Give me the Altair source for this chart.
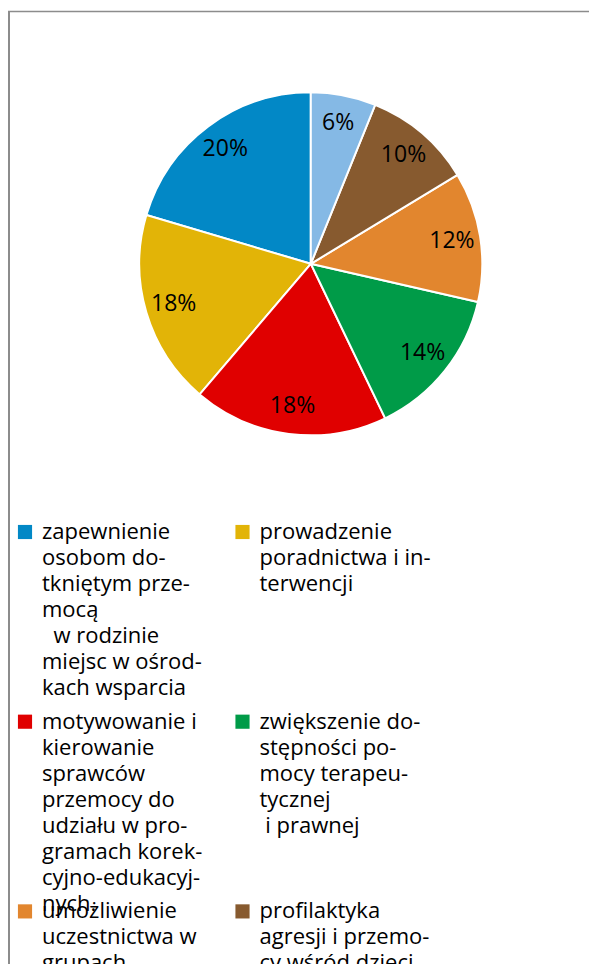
import altair as alt
import pandas as pd

# ---- data ----
keys = ["zapewnienie", "prowadzenie", "motywowanie", "zwiekszenie",
        "umozliwienie", "profilaktyka", "inne"]
counts = [10, 9, 9, 7, 6, 5, 3]
colors = ["#0288c6", "#e2b407", "#e00000", "#009b48", "#e2862e", "#875a2f", "#85b9e5"]
pie_order = [6, 5, 4, 3, 2, 1, 0]

legend_keys = ["zapewnienie", "prowadzenie", "motywowanie", "zwiekszenie",
               "umozliwienie", "profilaktyka"]
legend_lines = [
    ["zapewnienie", "osobom do-", "tkniętym prze-", "mocą",
     "\u200b\u00a0\u00a0w rodzinie", "miejsc w ośrod-", "kach wsparcia"],
    ["prowadzenie", "poradnictwa i in-", "terwencji"],
    ["motywowanie i", "kierowanie", "sprawców", "przemocy do",
     "udziału w pro-", "gramach korek-", "cyjno-edukacyj-", "nych."],
    ["zwiększenie do-", "stępności po-", "mocy terapeu-", "tycznej",
     "\u200b\u00a0i prawnej"],
    ["umożliwienie", "uczestnictwa w", "grupach"],
    ["profilaktyka", "agresji i przemo-", "cy wśród dzieci"],
]
legend_col = [0, 1, 0, 1, 0, 1]
legend_row = [0, 0, 1, 1, 2, 2]

total = sum(counts)
pie_df = pd.DataFrame({
    "key": keys,
    "count": counts,
    "ord": pie_order,
    "pct": [f"{round(c / total * 100)}%" for c in counts],
})
leg_df = pd.DataFrame({
    "key": legend_keys,
    "col": legend_col,
    "row": legend_row,
    "txt": ["\n".join(l) for l in legend_lines],
})

FONT = "Open Sans"
W, H = 581, 956
CX, CY = 302.8, 255.8

color_scale = alt.Scale(domain=keys, range=colors)

pie = alt.Chart(pie_df).mark_arc(outerRadius=171.5, stroke="white", strokeWidth=2).encode(
    theta=alt.Theta("count:Q", stack=True),
    color=alt.Color("key:N", scale=color_scale, legend=None),
    order=alt.Order("ord:Q"),
    x=alt.value(CX), y=alt.value(CY),
)

labels = alt.Chart(pie_df).mark_text(radius=143, fontSize=23, font=FONT, color="#000000").encode(
    theta=alt.Theta("count:Q", stack=True),
    order=alt.Order("ord:Q"),
    text="pct:N",
    x=alt.value(CX), y=alt.value(CY),
)

xs = alt.Scale(domain=[0, 1], range=[17, 234.5])
ys = alt.Scale(domain=[0, 2], range=[524, 903.4])

squares = alt.Chart(leg_df).mark_square(size=200, opacity=1).encode(
    x=alt.X("col:Q", scale=xs, axis=None),
    y=alt.Y("row:Q", scale=ys, axis=None),
    color=alt.Color("key:N", scale=color_scale, legend=None),
)

texts = alt.Chart(leg_df).mark_text(
    align="left", baseline="alphabetic", dx=17, dy=7, fontSize=22, font=FONT,
    lineHeight=26, lineBreak="\n", color="#000000",
).encode(
    x=alt.X("col:Q", scale=xs, axis=None),
    y=alt.Y("row:Q", scale=ys, axis=None),
    text="txt:N",
)

frame_df = pd.DataFrame({"a": [0]})
top_rule = alt.Chart(frame_df).mark_rule(color="#8c8c8c", strokeWidth=1.5).encode(
    x=alt.value(0), x2=alt.value(W), y=alt.value(3.5),
)
left_rule = alt.Chart(frame_df).mark_rule(color="#8c8c8c", strokeWidth=2).encode(
    x=alt.value(1), y=alt.value(3), y2=alt.value(H),
)

chart = alt.layer(top_rule, left_rule, pie, labels, squares, texts).properties(
    width=W, height=H, padding=0,
    autosize=alt.AutoSizeParams(type="none"),
).configure_view(strokeWidth=0)

chart.save("out.html", embed_options={"renderer": "svg", "actions": False})
